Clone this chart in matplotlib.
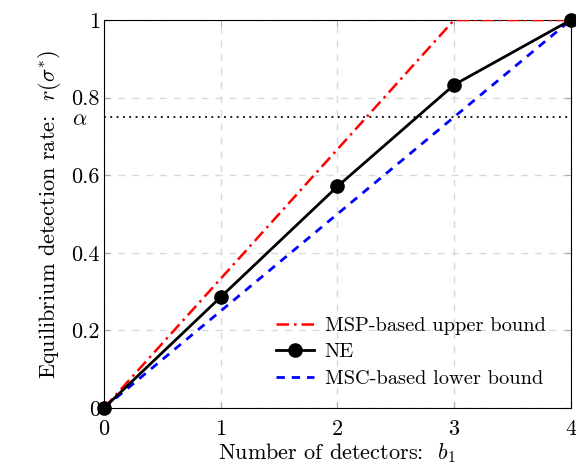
import matplotlib
matplotlib.use("Agg")
import matplotlib.pyplot as plt

plt.rcParams["font.family"] = "serif"
plt.rcParams["font.serif"] = ["cmr10"]
plt.rcParams["mathtext.fontset"] = "cm"
plt.rcParams["axes.formatter.use_mathtext"] = True

# data
b1 = [0, 1, 2, 3, 4]
ne = [0, 0.286, 0.571, 0.833, 1.0]
msp_x = [0, 3, 4]
msp_y = [0, 1, 1]
msc_x = [0, 4]
msc_y = [0, 1]
alpha = 0.75

fig = plt.figure(figsize=(5.76, 4.72), dpi=100)
ax = fig.add_axes([0.1806, 0.1356, 0.8104, 0.822])

ax.plot(msp_x, msp_y, color="red", ls=(0, (5, 2, 1, 2)), lw=1.8, label="MSP-based upper bound", zorder=3)
ax.plot(b1, ne, color="black", lw=2, marker="o", ms=9.5, label="NE", zorder=4, clip_on=False)
ax.plot(msc_x, msc_y, color="blue", ls=(0, (3, 2.5)), lw=2, label="MSC-based lower bound", zorder=3)
ax.plot([0, 4], [alpha, alpha], color="black", ls=(0, (1, 2.5)), lw=1.3, zorder=2)

ax.set_xlim(0, 4)
ax.set_ylim(0, 1)
ax.set_xticks([0, 1, 2, 3, 4])
ax.set_yticks([0, 0.2, 0.4, 0.6, 0.8, 1])
ax.set_yticklabels(["0", "0.2", "0.4", "0.6", "0.8", "1"])
ax.grid(True, color="#d9d9d9", ls=(0, (5, 5)), lw=1)
ax.tick_params(direction="in", length=4, color="#aaaaaa", labelsize=16, top=True, right=True, pad=3)
ax.tick_params(axis="x", pad=8)
ax.text(-0.035, alpha - 0.006, r"$\alpha$", transform=ax.get_yaxis_transform(), ha="right", va="center", fontsize=16)

ax.set_xlabel(r"Number of detectors:  $b_1$", fontsize=16, labelpad=2)
ax.set_ylabel(r"Equilibrium detection rate:  $r(\sigma^{*})$", fontsize=16, labelpad=6)

ax.legend(loc="lower right", frameon=False, fontsize=14.7, handlelength=1.9, handletextpad=0.5,
          labelspacing=0.4, bbox_to_anchor=(0.985, 0.005))

fig.savefig("out.png", dpi=100)
